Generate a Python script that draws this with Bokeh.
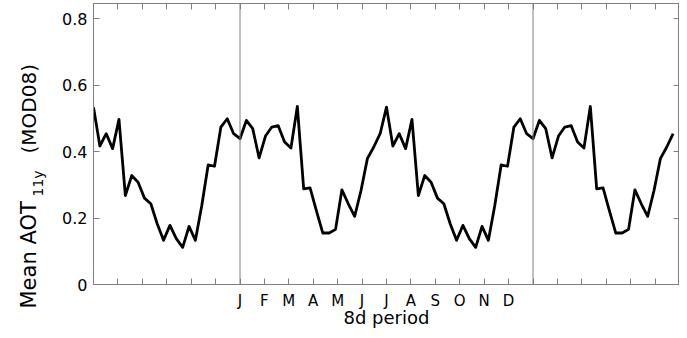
import math
from bokeh.plotting import figure
from bokeh.layouts import row
from bokeh.core.properties import value
from bokeh.models import (Range1d, LinearAxis, FixedTicker, CustomJSTickFormatter,
                          Span, ColumnDataSource)
from bokeh.embed import file_html
from bokeh.resources import INLINE

# ---- data (one year of 46 8-day periods, index 0 = first period of January) ----
year_aot = [0.439, 0.494, 0.469, 0.381, 0.447, 0.474, 0.478, 0.429, 0.411, 0.536,
            0.288, 0.291, 0.222, 0.155, 0.155, 0.166, 0.285, 0.243, 0.205, 0.283,
            0.379, 0.414, 0.454, 0.534, 0.417, 0.454, 0.409, 0.497, 0.268, 0.328,
            0.308, 0.260, 0.243, 0.183, 0.133, 0.178, 0.138, 0.112, 0.175, 0.133,
            0.238, 0.360, 0.356, 0.474, 0.499, 0.454]
periods_per_year = 46
month_labels = ["J", "F", "M", "A", "M", "J", "J", "A", "S", "O", "N", "D"]
shown_periods = list(range(-23, 69))          # half a year before, one year, most of the next
shown_aot = [year_aot[i % periods_per_year] for i in shown_periods]
month_ticks = [k * periods_per_year / 12 for k in range(-6, 19)]
year_boundaries = [0, 46]
y_ticks = [0, 0.2, 0.4, 0.6, 0.8]

FONT = "DejaVu Sans"
GRAY = "#808080"

H = 330
LW = 56            # width of the strip holding the y-axis title
W = 679 - LW

# ---- strip with the rotated y-axis title (pixel coordinates, y up) ----
t = figure(width=LW, height=H, output_backend="svg", toolbar_location=None,
           x_range=Range1d(0, LW), y_range=Range1d(0, H),
           x_axis_location=None, y_axis_location=None,
           min_border_left=0, min_border_right=0, min_border_top=0, min_border_bottom=0)
t.frame_align = False
t.outline_line_color = None
t.xgrid.visible = False
t.ygrid.visible = False
title_parts = dict(x=[28, 37, 28], y=[H - 308, H - 196, H - 153],
                   text=["Mean AOT", "11y", "(MOD08)"], size=["21px", "14px", "20px"])
t.text(x="x", y="y", text="text", source=ColumnDataSource(title_parts),
       angle=math.pi / 2, text_font=value(FONT), text_font_size="size",
       text_color="black", text_align="left", text_baseline="alphabetic")

# ---- main plot ----
p = figure(width=W, height=H, output_backend="svg", toolbar_location=None,
           x_range=Range1d(-23, 69), y_range=Range1d(0, 0.846),
           min_border_left=93 - LW, min_border_right=0, min_border_top=3, min_border_bottom=46)
p.frame_align = False
p.xgrid.visible = False
p.ygrid.visible = False
p.outline_line_color = GRAY
p.background_fill_color = "white"

src = ColumnDataSource(dict(x=shown_periods, y=shown_aot))
p.line("x", "y", source=src, line_color="black", line_width=2.8, line_join="round")

for xb in year_boundaries:
    p.add_layout(Span(location=xb, dimension="height", line_color=GRAY, line_width=1))

# bottom axis
xa = p.xaxis[0]
xa.ticker = FixedTicker(ticks=month_ticks)
xa.formatter = CustomJSTickFormatter(args=dict(labels=month_labels), code="""
const k = Math.round(tick * 12 / 46);
return (k >= 0 && k < 12) ? labels[k] : "";
""")
xa.axis_label = "8d period"
# left axis
ya = p.yaxis[0]
ya.ticker = FixedTicker(ticks=y_ticks)

for ax in (xa, ya):
    ax.axis_line_color = GRAY
    ax.major_tick_line_color = GRAY
    ax.major_tick_in = 6
    ax.major_tick_out = 0
    ax.minor_tick_line_color = None
    ax.major_label_text_font = FONT
    ax.major_label_text_color = "black"
    ax.axis_label_text_font = FONT
    ax.axis_label_text_font_style = "normal"
    ax.axis_label_text_color = "black"
xa.major_label_text_font_size = "15px"
ya.major_label_text_font_size = "16px"
xa.axis_label_text_font_size = "18px"
xa.major_label_standoff = 7
xa.axis_label_standoff = -6
ya.major_label_standoff = 6

# mirrored top and right axes (ticks only)
top = LinearAxis(ticker=FixedTicker(ticks=month_ticks),
                 formatter=CustomJSTickFormatter(code="return '';"))
right = LinearAxis(ticker=FixedTicker(ticks=y_ticks),
                   formatter=CustomJSTickFormatter(code="return '';"))
for ax in (top, right):
    ax.axis_line_color = GRAY
    ax.major_tick_line_color = GRAY
    ax.major_tick_in = 6
    ax.major_tick_out = 0
    ax.minor_tick_line_color = None
    ax.major_label_standoff = 0
    ax.major_label_text_font_size = "1px"
p.add_layout(top, "above")
p.add_layout(right, "right")

layout = row(t, p, spacing=0)
open("out.html", "w").write(file_html(layout, INLINE))
